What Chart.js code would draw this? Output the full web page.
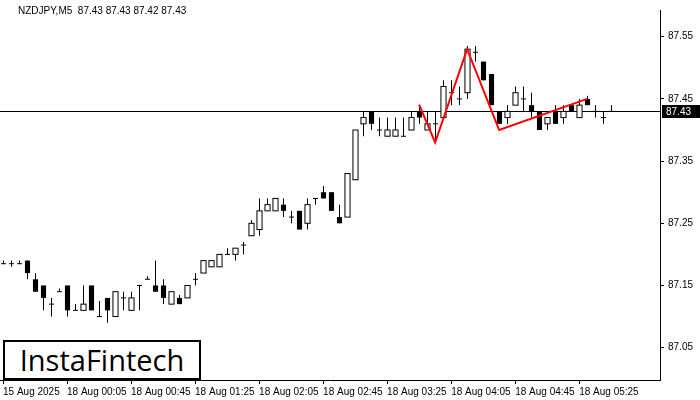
<!DOCTYPE html>
<html><head><meta charset="utf-8">
<script src="https://cdn.jsdelivr.net/npm/chart.js@4"></script>
<style>
body{margin:0;background:#fff;font-family:"Liberation Sans",Arial,sans-serif}
#wrap{position:relative;width:700px;height:400px}
#title{position:absolute;left:18px;top:5px;font-size:10px;color:#000}
#logo{position:absolute;left:3px;top:340px;width:194px;height:36px;border:2px solid #000;background:#fff;font-size:29px;line-height:36px;text-align:center;color:#000;font-family:"Open Sans","DejaVu Sans",sans-serif}
</style></head><body>
<div id="wrap"><canvas id="c" width="700" height="400"></canvas>
<div id="title">NZDJPY,M5&nbsp; 87.43 87.43 87.42 87.43</div>
<div id="logo">InstaFintech</div></div>
<script>
const opens =[87.185,87.185,87.185,87.19,87.16,87.15,87.12,87.14,87.15,87.11,87.11,87.15,87.10,87.13,87.10,87.13,87.11,87.15,87.16,87.15,87.15,87.12,87.13,87.13,87.16,87.17,87.18,87.18,87.20,87.20,87.215,87.23,87.24,87.27,87.27,87.28,87.26,87.27,87.25,87.29,87.30,87.30,87.26,87.26,87.32,87.41,87.43,87.40,87.39,87.39,87.39,87.40,87.43,87.40,87.41,87.42,87.46,87.45,87.46,87.525,87.51,87.49,87.43,87.42,87.44,87.45,87.44,87.43,87.41,87.43,87.42,87.44,87.42,87.45,87.43,87.42,87.43];
const highs =[87.19,87.19,87.19,87.19,87.17,87.15,87.13,87.145,87.15,87.12,87.15,87.15,87.125,87.13,87.14,87.14,87.14,87.15,87.165,87.19,87.16,87.14,87.135,87.15,87.17,87.19,87.19,87.20,87.21,87.21,87.22,87.255,87.29,87.29,87.29,87.29,87.27,87.27,87.29,87.29,87.31,87.30,87.28,87.33,87.40,87.43,87.43,87.42,87.42,87.42,87.42,87.43,87.44,87.43,87.43,87.48,87.48,87.47,87.535,87.535,87.51,87.49,87.43,87.44,87.47,87.47,87.46,87.43,87.42,87.44,87.44,87.44,87.45,87.455,87.44,87.43,87.44];
const lows  =[87.185,87.18,87.185,87.16,87.14,87.11,87.10,87.14,87.10,87.11,87.11,87.11,87.10,87.09,87.10,87.11,87.11,87.11,87.16,87.14,87.12,87.12,87.12,87.13,87.15,87.17,87.18,87.18,87.20,87.19,87.20,87.23,87.23,87.27,87.27,87.26,87.25,87.24,87.24,87.28,87.29,87.27,87.25,87.26,87.32,87.39,87.40,87.39,87.39,87.39,87.39,87.40,87.41,87.40,87.38,87.42,87.44,87.44,87.45,87.51,87.48,87.44,87.41,87.41,87.44,87.43,87.42,87.40,87.40,87.41,87.41,87.43,87.42,87.44,87.42,87.41,87.43];
const closes=[87.185,87.185,87.185,87.17,87.14,87.13,87.12,87.14,87.11,87.11,87.12,87.11,87.10,87.11,87.14,87.13,87.13,87.15,87.16,87.14,87.13,87.14,87.12,87.15,87.16,87.19,87.19,87.20,87.20,87.21,87.215,87.25,87.27,87.28,87.29,87.27,87.26,87.24,87.28,87.29,87.29,87.27,87.25,87.33,87.40,87.42,87.41,87.40,87.40,87.40,87.39,87.42,87.42,87.41,87.41,87.47,87.46,87.45,87.53,87.525,87.48,87.44,87.41,87.43,87.46,87.45,87.43,87.40,87.42,87.41,87.43,87.43,87.44,87.44,87.43,87.42,87.43];
const patternIdx=[52,54,58,62,73];
const patternPrice=[87.441,87.38,87.53,87.40,87.45];
const timeTickIdx=[0,8,16,24,32,40,48,56,64,72];
const timeTickLabels=["15 Aug 2025","18 Aug 00:05","18 Aug 00:45","18 Aug 01:25","18 Aug 02:05","18 Aug 02:45","18 Aug 03:25","18 Aug 04:05","18 Aug 04:45","18 Aug 05:25"];
const priceTicks=[87.05,87.15,87.25,87.35,87.45,87.55];
const currentPrice=87.43;

const candlePlugin={id:'candles',
beforeDatasetsDraw(ch){const ctx=ch.ctx,x=ch.scales.x,y=ch.scales.y,a=ch.chartArea;
 ctx.save();ctx.beginPath();ctx.rect(a.left,a.top,a.width,a.height);ctx.clip();
 ctx.strokeStyle='#000';ctx.lineWidth=1;
 ctx.beginPath();const py=Math.round(y.getPixelForValue(currentPrice))+0.5;ctx.moveTo(a.left,py);ctx.lineTo(a.right,py);ctx.stroke();
 const hw=(x.getPixelForValue(1)-x.getPixelForValue(0))*0.32;
 for(let i=0;i<opens.length;i++){
  const cx=Math.round(x.getPixelForValue(i))+0.5;
  const yh=y.getPixelForValue(highs[i]),yl=y.getPixelForValue(lows[i]);
  const yo=y.getPixelForValue(opens[i]),yc=y.getPixelForValue(closes[i]);
  ctx.beginPath();ctx.moveTo(cx,yh);ctx.lineTo(cx,yl);ctx.stroke();
  const top=Math.min(yo,yc),h=Math.max(Math.abs(yo-yc),1);
  if(closes[i]<opens[i]){ctx.fillStyle='#000';ctx.fillRect(cx-hw,top,2*hw,h);}
  else if(closes[i]>opens[i]){ctx.fillStyle='#fff';ctx.fillRect(cx-hw,top,2*hw,h);ctx.strokeRect(cx-hw,top,2*hw,h);}
  else{ctx.beginPath();ctx.moveTo(cx-hw,yo);ctx.lineTo(cx+hw,yo);ctx.stroke();}
 }
 ctx.restore();},
afterDraw(ch){const ctx=ch.ctx,y=ch.scales.y,a=ch.chartArea;
 const py=Math.round(y.getPixelForValue(currentPrice));
 ctx.save();ctx.fillStyle='#000';ctx.fillRect(a.right+2,py-6,38,13);
 ctx.fillStyle='#fff';ctx.font='10px "Liberation Sans",Arial';ctx.textBaseline='middle';ctx.fillText(currentPrice.toFixed(2),a.right+6,py+1);ctx.restore();}
};

new Chart(document.getElementById('c'),{
type:'line',
data:{datasets:[{data:patternIdx.map((v,i)=>({x:v,y:patternPrice[i]})),borderColor:'#ff0000',borderWidth:2,pointRadius:0,tension:0}]},
options:{responsive:false,animation:false,events:[],
 layout:{padding:{left:0,top:0,right:0,bottom:0}},
 plugins:{legend:{display:false},tooltip:{enabled:false}},
 scales:{
  x:{type:'linear',min:-0.375,max:82.1,
   afterBuildTicks(s){s.ticks=timeTickIdx.map(v=>({value:v}));},
   afterFit(s){s.height=20;},
   ticks:{autoSkip:false,maxRotation:0,align:'start',padding:2,color:'#000',font:{size:10,family:'"Liberation Sans",Arial'},
     callback:(v)=>timeTickLabels[timeTickIdx.indexOf(v)]},
   grid:{display:true,drawOnChartArea:false,tickLength:4,color:'#000'},border:{color:'#000'}},
  y:{position:'right',min:86.998,max:87.593,
   afterBuildTicks(s){s.ticks=priceTicks.map(v=>({value:v}));},
   afterFit(s){s.width=40;},
   ticks:{color:'#000',padding:4,font:{size:10,family:'"Liberation Sans",Arial'},callback:v=>v.toFixed(2)},
   grid:{display:true,drawOnChartArea:false,tickLength:4,color:'#000'},border:{color:'#000'}}
 }},
plugins:[candlePlugin]});
</script></body></html>
